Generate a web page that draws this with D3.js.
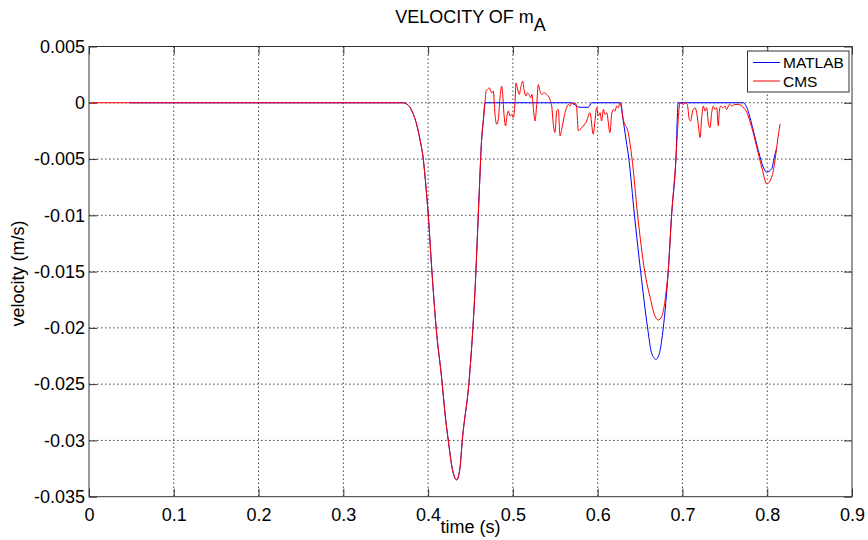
<!DOCTYPE html>
<html lang="en">
  <head>
    <meta charset="UTF-8" />
    <title>Velocity of mA</title>
    <script src="https://d3js.org/d3.v7.min.js"></script>
    <style>
      body { margin: 0; background: #fff; }
      text { font-family: "Liberation Sans", Arial, sans-serif; fill: #000; }
      .grid line { stroke: #444; stroke-width: 1px; stroke-dasharray: 1.5,2.5; }
      .axis path, .axis line { stroke: #333; }
      .frame { fill: none; stroke: #333; stroke-width: 1px; }
    </style>
  </head>
  <body>
    <svg id="chart" width="868" height="540"></svg>
    <script>
      // tick values / labels
      const xTicks = [0, 0.1, 0.2, 0.3, 0.4, 0.5, 0.6, 0.7, 0.8, 0.9];
      const xTickLabels = ["0", "0.1", "0.2", "0.3", "0.4", "0.5", "0.6", "0.7", "0.8", "0.9"];
      const yTicks = [0.005, 0, -0.005, -0.01, -0.015, -0.02, -0.025, -0.03, -0.035];
      const yTickLabels = ["0.005", "0", "-0.005", "-0.01", "-0.015", "-0.02", "-0.025", "-0.03", "-0.035"];

      const seriesNames = ["MATLAB", "CMS"];
      const seriesColors = ["#0000ff", "#ff0000"];

      // first dip, both curves lie on top of each other here
      const firstDip = [
        [0.370, 0], [0.3745, -0.0001], [0.3786, -0.0004], [0.3825, -0.0010],
        [0.3864, -0.0019], [0.3905, -0.0033], [0.3943, -0.005], [0.3975, -0.0075],
        [0.4002, -0.01], [0.4045, -0.015], [0.4095, -0.02], [0.416, -0.0245],
        [0.4205, -0.028], [0.4238, -0.030], [0.4285, -0.0325], [0.4336, -0.0335],
        [0.4375, -0.0325], [0.4403, -0.030], [0.4486, -0.0245], [0.4553, -0.0167],
        [0.4604, -0.0078], [0.463, -0.0034], [0.4651, -0.0016], [0.4671, 0]
      ];

      // MATLAB (time s, velocity m/s)
      const matlabData = [
        [0.048, 0], ...firstDip,
        [0.5693, 0], [0.5735, -0.0002], [0.5792, -0.0004], [0.589, -0.0004], [0.5929, 0],
        [0.627, 0], [0.630, -0.0015], [0.6335, -0.0033], [0.6368, -0.005], [0.6434, -0.01],
        [0.6507, -0.015], [0.6589, -0.02], [0.6635, -0.0222], [0.6688, -0.0228],
        [0.673, -0.0222], [0.6774, -0.02], [0.6832, -0.015], [0.6872, -0.01],
        [0.6923, -0.005], [0.695, 0],
        [0.7718, 0], [0.7758, -0.0004], [0.7836, -0.00246], [0.7895, -0.00424],
        [0.7954, -0.00572], [0.7993, -0.00616], [0.8053, -0.00586], [0.808, -0.00497],
        [0.8112, -0.004]
      ];

      // CMS (time s, velocity m/s)
      const cmsData = [
        [0, 0], ...firstDip,
        [0.4683, 0.00103], [0.4698, 0.00118], [0.4722, 0.00132], [0.4750, 0.00088],
        [0.4769, 0.00103], [0.4789, -0.00103], [0.4809, -0.00191], [0.4828, -0.00147],
        [0.4848, 0.00044], [0.4868, 0.00147], [0.4880, 0.00074], [0.4895, -0.00103],
        [0.4915, -0.00206], [0.4927, -0.00132], [0.4946, -0.00074], [0.4966, -0.00118],
        [0.4986, -0.00103], [0.5005, -0.00132], [0.5025, 0], [0.5037, 0.00176],
        [0.5052, 0.00132], [0.5076, 0.00074], [0.5092, 0.00132], [0.5116, 0.00191],
        [0.5131, 0.00118], [0.5155, 0.00059], [0.5170, 0.00088], [0.5190, 0.00074],
        [0.5210, 0.00044], [0.5225, 0.00074], [0.5241, -0.00044], [0.5261, -0.00162],
        [0.5281, -0.00015], [0.5300, 0.00162], [0.5320, 0.00103], [0.5340, 0.00074],
        [0.5367, 0.00088], [0.5399, 0.00074], [0.5438, 0.00029], [0.5458, -0.00029],
        [0.5477, -0.00191], [0.5497, -0.00265], [0.5517, -0.00074], [0.5536, -0.00059],
        [0.5556, -0.00294], [0.5576, -0.00235], [0.5595, -0.00162], [0.5615, -0.00088],
        [0.5635, -0.00044], [0.5654, -0.00015], [0.5674, -0.00029], [0.5694, 0],
        [0.5713, -0.00015], [0.5733, 0], [0.5752, -0.00044], [0.5772, -0.0025],
        [0.5792, -0.00235], [0.5831, -0.00206], [0.5870, -0.00162], [0.5909, -0.00088],
        [0.5948, -0.00279], [0.5968, -0.00162], [0.5988, -0.00044], [0.6008, -0.00118],
        [0.6027, -0.00088], [0.6047, -0.00162], [0.6067, -0.00059], [0.6087, -0.00103],
        [0.6106, -0.00088], [0.6145, -0.00265], [0.6165, -0.00103], [0.6185, -0.00059],
        [0.6204, -0.00074], [0.6224, -0.00029], [0.6243, -0.00044], [0.6263, 0],
        [0.6304, -0.00157], [0.6363, -0.00275], [0.6403, -0.00483], [0.6472, -0.01],
        [0.6555, -0.015], [0.6625, -0.0175], [0.666, -0.0186],
        [0.6715, -0.0193], [0.6755, -0.0190], [0.6794, -0.0176], [0.6813, -0.0164],
        [0.6832, -0.015], [0.6872, -0.01], [0.6923, -0.005], [0.695, -0.0015],
        [0.6971, 0], [0.7010, -0.00015], [0.7030, 0], [0.7057, -0.00015],
        [0.7081, -0.00147], [0.7097, -0.00162], [0.7120, -0.00074], [0.7148, -0.00044],
        [0.7168, -0.00088], [0.7187, -0.00191], [0.7207, -0.00309], [0.7227, -0.00132],
        [0.7246, -0.00029], [0.7266, -0.00074], [0.7286, -0.00044], [0.7305, -0.00176],
        [0.7325, -0.00221], [0.7345, -0.00088], [0.7364, -0.00029], [0.7384, -0.00059],
        [0.7404, -0.00044], [0.7423, -0.00206], [0.7435, -0.00074], [0.7451, -0.00029],
        [0.7475, -0.00044], [0.7502, -0.00029], [0.7522, -0.00059], [0.7553, -0.00015],
        [0.7581, -0.00029], [0.7620, -0.00015], [0.7659, -0.00015], [0.7699, -0.00029],
        [0.7758, -0.00083], [0.7817, -0.00217], [0.7876, -0.00394], [0.7935, -0.00572],
        [0.7995, -0.0072], [0.8053, -0.0066], [0.8092, -0.00512], [0.8112, -0.00394],
        [0.8151, -0.00187]
      ];

      const svg = d3.select("#chart");
      const margin = { top: 46.5, right: 16, bottom: 43.3, left: 89 };
      const width = +svg.attr("width") - margin.left - margin.right;
      const height = +svg.attr("height") - margin.top - margin.bottom;

      svg.append("rect").attr("width", 868).attr("height", 540).attr("fill", "#fff");

      const g = svg.append("g")
        .attr("transform", "translate(" + margin.left + "," + margin.top + ")");

      const x = d3.scaleLinear().domain([0, 0.9]).range([0, width]);
      const y = d3.scaleLinear().domain([-0.035, 0.005]).range([height, 0]);

      // grid
      const grid = g.append("g").attr("class", "grid");
      grid.selectAll("line.gx")
        .data(xTicks.slice(1, -1))
        .join("line")
        .attr("class", "gx")
        .attr("x1", d => x(d)).attr("x2", d => x(d))
        .attr("y1", 0).attr("y2", height);
      grid.selectAll("line.gy")
        .data(yTicks.slice(1, -1))
        .join("line")
        .attr("class", "gy")
        .attr("x1", 0).attr("x2", width)
        .attr("y1", d => y(d)).attr("y2", d => y(d));

      // axes, matlab style ticks pointing inward
      const tickLen = 8;
      const xAxis = g.append("g")
        .attr("class", "axis")
        .attr("transform", "translate(0," + height + ")")
        .call(d3.axisBottom(x).tickValues(xTicks)
          .tickFormat((d, i) => xTickLabels[i])
          .tickSize(-tickLen).tickSizeOuter(0).tickPadding(tickLen + 4));
      xAxis.selectAll("text").attr("font-size", 18);
      xAxis.select(".domain").remove();

      const yAxis = g.append("g")
        .attr("class", "axis")
        .call(d3.axisLeft(y).tickValues(yTicks)
          .tickFormat((d, i) => yTickLabels[i])
          .tickSize(-tickLen).tickSizeOuter(0).tickPadding(4));
      yAxis.selectAll("text").attr("font-size", 18);
      yAxis.selectAll(".tick text").attr("x", -4);
      yAxis.select(".domain").remove();

      g.append("g").attr("class", "axis")
        .call(d3.axisTop(x).tickValues(xTicks).tickFormat("").tickSize(-tickLen).tickSizeOuter(0))
        .select(".domain").remove();
      g.append("g").attr("class", "axis")
        .attr("transform", "translate(" + width + ",0)")
        .call(d3.axisRight(y).tickValues(yTicks).tickFormat("").tickSize(-tickLen).tickSizeOuter(0))
        .select(".domain").remove();

      g.append("rect").attr("class", "frame")
        .attr("width", width).attr("height", height);

      // lines
      const line = d3.line()
        .x(d => x(d[0]))
        .y(d => y(d[1]))
        .curve(d3.curveMonotoneX);

      [matlabData, cmsData].forEach((data, i) => {
        g.append("path")
          .datum(data)
          .attr("fill", "none")
          .attr("stroke", seriesColors[i])
          .attr("stroke-width", 1)
          .attr("d", line);
      });

      // title
      const title = svg.append("text")
        .attr("x", margin.left + width / 2)
        .attr("y", 23)
        .attr("text-anchor", "middle")
        .attr("font-size", 18);
      title.append("tspan").text("VELOCITY OF m");
      title.append("tspan").attr("dy", 8).text("A");

      // axis labels
      svg.append("text")
        .attr("x", margin.left + width / 2)
        .attr("y", 533)
        .attr("text-anchor", "middle")
        .attr("font-size", 18)
        .text("time (s)");

      svg.append("text")
        .attr("transform", "translate(24," + (margin.top + 227) + ") rotate(-90)")
        .attr("text-anchor", "middle")
        .attr("font-size", 18)
        .text("velocity (m/s)");

      // legend
      const legend = svg.append("g").attr("transform", "translate(747.5,51)");
      legend.append("rect")
        .attr("width", 101.5).attr("height", 41)
        .attr("fill", "#fff").attr("stroke", "#333");
      seriesNames.forEach((name, i) => {
        const ly = 11.5 + i * 18.5;
        legend.append("line")
          .attr("x1", 5.5).attr("x2", 32.5)
          .attr("y1", ly).attr("y2", ly)
          .attr("stroke", seriesColors[i]);
        legend.append("text")
          .attr("x", 35.5).attr("y", ly + 5.5)
          .attr("font-size", 15.5)
          .text(name);
      });
    </script>
  </body>
</html>
